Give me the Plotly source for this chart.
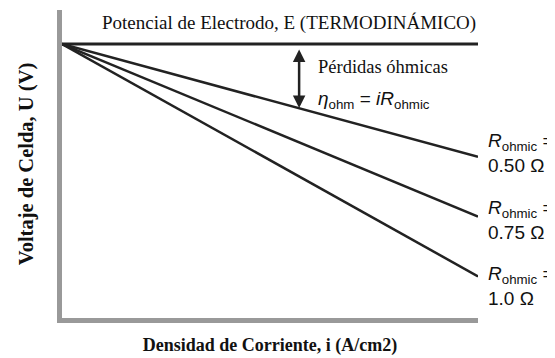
import plotly.graph_objects as go

# corriente (normalizada) y voltajes
corriente = [0.0, 1.0]
e_termo = 1.0
r_ohmic = ["0.50", "0.75", "1.0"]
u_final = [0.51, 0.25, -0.01]

serif = "Liberation Serif"
sans = "Liberation Sans"

fig = go.Figure()

fig.add_trace(go.Scatter(x=corriente, y=[e_termo, e_termo], mode="lines",
                         line=dict(color="#222222", width=3), hoverinfo="skip"))
for u in u_final:
    fig.add_trace(go.Scatter(x=corriente, y=[e_termo, u], mode="lines",
                             line=dict(color="#222222", width=2.5), hoverinfo="skip"))

fig.add_annotation(x=1.0, y=1.091, xref="x", yref="y", xanchor="right", yanchor="middle",
                   text="Potencial de Electrodo, E (TERMODINÁMICO)", showarrow=False,
                   font=dict(family=serif, size=19, color="#111111"))

# flecha doble de perdidas ohmicas
fig.add_annotation(x=0.57, y=0.722, ax=0.57, ay=0.983, xref="x", yref="y",
                   axref="x", ayref="y", text="", showarrow=True,
                   arrowhead=2, startarrowhead=2, arrowside="end+start",
                   arrowsize=1, arrowwidth=2.5, arrowcolor="#222222")
fig.add_annotation(x=0.61, y=0.9, xref="x", yref="y", xanchor="left", yanchor="middle",
                   text="Pérdidas óhmicas", showarrow=False,
                   font=dict(family=serif, size=18.5, color="#111111"))
fig.add_annotation(x=0.61, y=0.757, xref="x", yref="y", xanchor="left", yanchor="middle",
                   text="<i>η</i><sub>ohm</sub> = <i>iR</i><sub>ohmic</sub>", showarrow=False,
                   font=dict(family=sans, size=19, color="#111111"))

shifts = [4, -3, -10]
for r, u, s in zip(r_ohmic, u_final, shifts):
    fig.add_annotation(x=1.0, y=u, xref="x", yref="y", xanchor="left", yanchor="middle",
                       xshift=8, yshift=s, align="left", showarrow=False,
                       text="<i>R</i><sub>ohmic</sub> =<br>" + r + " Ω",
                       font=dict(family=sans, size=19, color="#111111"))

fig.update_xaxes(range=[0, 1], showline=True, linecolor="#999999", linewidth=5,
                 showgrid=False, zeroline=False, showticklabels=False, ticks="",
                 title=dict(text="<b>Densidad de Corriente, i (A/cm2)</b>", standoff=18,
                            font=dict(family=serif, size=18, color="#111111")))
fig.update_yaxes(range=[-0.191, 1.148], showline=True, linecolor="#999999", linewidth=5,
                 showgrid=False, zeroline=False, showticklabels=False, ticks="",
                 title=dict(text="<b>Voltaje de Celda, U (V)</b>", standoff=19,
                            font=dict(family=serif, size=20.5, color="#111111")))

# la pagina tiene 8 px de margen propio: el lienzo se reduce en esa medida
fig.update_layout(width=547, height=350, showlegend=False,
                  margin=dict(l=54, r=77, t=2, b=40),
                  plot_bgcolor="white", paper_bgcolor="white")

fig.write_html("out.html")
